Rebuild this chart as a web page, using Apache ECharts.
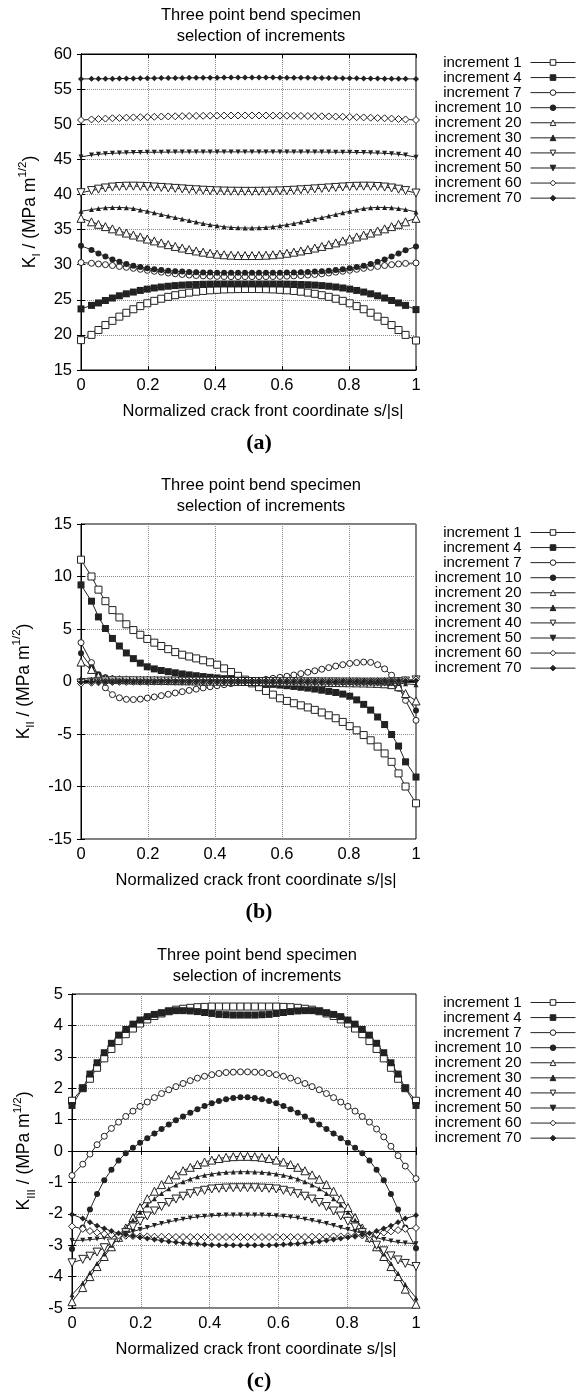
<!DOCTYPE html>
<html>
<head>
<meta charset="utf-8">
<title>Three point bend specimen</title>
<script src="https://cdn.jsdelivr.net/npm/echarts@6/dist/echarts.min.js"></script>
<style>
  html, body { margin: 0; padding: 0; background: #fff; }
  #chart { width: 576px; height: 1396px; }
</style>
</head>
<body>
<div id="chart"></div>
<script>
// normalized crack front coordinate s/|s| (same nodes in all three panels)
const S = [0, 0.0313, 0.0521, 0.0729, 0.0938, 0.1146, 0.1354, 0.1563, 0.1771, 0.1979, 0.2188, 0.2396,
  0.2604, 0.2813, 0.3021, 0.3229, 0.3438, 0.3646, 0.3854, 0.4063, 0.4271, 0.4479, 0.4688, 0.4896,
  0.5104, 0.5313, 0.5521, 0.5729, 0.5938, 0.6146, 0.6354, 0.6563, 0.6771, 0.6979, 0.7188, 0.7396,
  0.7604, 0.7813, 0.8021, 0.8229, 0.8438, 0.8646, 0.8854, 0.9063, 0.9271, 0.9479, 0.9688, 1];

const names = ['increment 1', 'increment 4', 'increment 7', 'increment 10', 'increment 20',
  'increment 30', 'increment 40', 'increment 50', 'increment 60', 'increment 70'];

// (a) K_I
const kI_1 = [19.25, 20.0, 20.7, 21.4, 22.0, 22.6, 23.15, 23.65, 24.1, 24.5, 24.85, 25.15, 25.42, 25.65, 25.85, 26.02, 26.15, 26.26, 26.35, 26.42, 26.47, 26.5, 26.52, 26.53,
  26.53, 26.52, 26.5, 26.47, 26.42, 26.35, 26.26, 26.15, 26.02, 25.85, 25.65, 25.42, 25.15, 24.85, 24.5, 24.1, 23.65, 23.15, 22.6, 22.0, 21.4, 20.7, 20.0, 19.2];
const kI_4 = [23.7, 24.2, 24.55, 24.9, 25.25, 25.57, 25.85, 26.1, 26.33, 26.52, 26.68, 26.82, 26.93, 27.02, 27.09, 27.14, 27.18, 27.21, 27.23, 27.24, 27.25, 27.25, 27.25, 27.25,
  27.25, 27.25, 27.25, 27.25, 27.24, 27.23, 27.21, 27.18, 27.14, 27.09, 27.02, 26.93, 26.82, 26.68, 26.52, 26.33, 26.1, 25.85, 25.57, 25.25, 24.9, 24.55, 24.2, 23.6];
const kI_7 = [30.3, 30.2, 30.1, 30.0, 29.88, 29.75, 29.62, 29.48, 29.34, 29.2, 29.06, 28.93, 28.81, 28.7, 28.6, 28.52, 28.45, 28.4, 28.36, 28.33, 28.31, 28.3, 28.3, 28.3,
  28.3, 28.3, 28.3, 28.31, 28.33, 28.36, 28.4, 28.45, 28.52, 28.6, 28.7, 28.81, 28.93, 29.06, 29.2, 29.34, 29.48, 29.62, 29.75, 29.88, 30.0, 30.1, 30.18, 30.25];
const kI_10 = [32.7, 32.1, 31.6, 31.15, 30.75, 30.4, 30.1, 29.85, 29.65, 29.48, 29.35, 29.24, 29.15, 29.08, 29.02, 28.97, 28.93, 28.9, 28.88, 28.86, 28.85, 28.84, 28.84, 28.84,
  28.84, 28.84, 28.84, 28.85, 28.86, 28.88, 28.9, 28.93, 28.97, 29.02, 29.08, 29.15, 29.24, 29.35, 29.48, 29.65, 29.85, 30.1, 30.4, 30.75, 31.15, 31.6, 32.05, 32.6];
const kI_20 = [36.6, 36.1, 35.75, 35.42, 35.1, 34.8, 34.5, 34.22, 33.95, 33.65, 33.38, 33.1, 32.85, 32.6, 32.37, 32.15, 31.95, 31.78, 31.63, 31.5, 31.41, 31.35, 31.31, 31.3,
  31.3, 31.31, 31.35, 31.41, 31.5, 31.63, 31.78, 31.95, 32.15, 32.37, 32.6, 32.85, 33.1, 33.38, 33.65, 33.95, 34.22, 34.5, 34.8, 35.1, 35.42, 35.75, 36.1, 36.6];
const kI_30 = [37.6, 37.85, 38.0, 38.1, 38.15, 38.15, 38.1, 38.0, 37.8, 37.6, 37.38, 37.15, 36.92, 36.7, 36.5, 36.28, 36.06, 35.86, 35.68, 35.53, 35.4, 35.31, 35.25, 35.22,
  35.22, 35.25, 35.31, 35.4, 35.53, 35.68, 35.86, 36.06, 36.28, 36.5, 36.7, 36.92, 37.15, 37.38, 37.6, 37.8, 38.0, 38.1, 38.15, 38.15, 38.1, 38.0, 37.85, 37.5];
const kI_40 = [40.25, 40.55, 40.75, 40.92, 41.05, 41.13, 41.17, 41.18, 41.16, 41.12, 41.06, 41.0, 40.93, 40.86, 40.79, 40.72, 40.66, 40.6, 40.55, 40.51, 40.48, 40.46, 40.45, 40.44,
  40.44, 40.45, 40.46, 40.48, 40.51, 40.55, 40.6, 40.66, 40.72, 40.79, 40.86, 40.93, 41.0, 41.06, 41.12, 41.16, 41.18, 41.17, 41.13, 41.05, 40.92, 40.75, 40.55, 40.2];
const kI_50 = [45.35, 45.6, 45.72, 45.8, 45.86, 45.9, 45.93, 45.96, 45.98, 46.0, 46.01, 46.02, 46.03, 46.04, 46.04, 46.05, 46.05, 46.05, 46.05, 46.06, 46.06, 46.06, 46.06, 46.06,
  46.06, 46.06, 46.06, 46.06, 46.06, 46.05, 46.05, 46.05, 46.05, 46.04, 46.04, 46.03, 46.02, 46.01, 46.0, 45.98, 45.96, 45.93, 45.9, 45.86, 45.8, 45.72, 45.6, 45.3];
const kI_60 = [50.6, 50.68, 50.74, 50.8, 50.85, 50.89, 50.93, 50.97, 51.0, 51.03, 51.06, 51.09, 51.11, 51.13, 51.15, 51.17, 51.19, 51.2, 51.21, 51.22, 51.23, 51.24, 51.24, 51.25,
  51.25, 51.24, 51.24, 51.23, 51.22, 51.21, 51.2, 51.19, 51.17, 51.15, 51.13, 51.11, 51.09, 51.06, 51.03, 51.0, 50.97, 50.93, 50.89, 50.85, 50.8, 50.74, 50.68, 50.6];
const kI_70 = [56.45, 56.46, 56.47, 56.48, 56.49, 56.5, 56.51, 56.52, 56.53, 56.55, 56.56, 56.57, 56.58, 56.59, 56.6, 56.61, 56.62, 56.62, 56.63, 56.63, 56.64, 56.64, 56.64, 56.64,
  56.64, 56.64, 56.64, 56.64, 56.63, 56.63, 56.62, 56.62, 56.61, 56.6, 56.59, 56.58, 56.57, 56.56, 56.55, 56.53, 56.52, 56.51, 56.5, 56.49, 56.48, 56.47, 56.46, 56.45];

// (b) K_II
const kII_1 = [11.6, 10.0, 8.75, 7.65, 6.8, 6.1, 5.45, 4.9, 4.45, 4.05, 3.7, 3.38, 3.08, 2.8, 2.55, 2.38, 2.2, 2.02, 1.83, 1.6, 1.25, 0.9, 0.54, 0.18,
  -0.18, -0.54, -0.9, -1.25, -1.6, -1.85, -2.07, -2.27, -2.47, -2.7, -2.95, -3.22, -3.5, -3.85, -4.25, -4.65, -5.1, -5.6, -6.2, -6.85, -7.65, -8.75, -10.0, -11.6];
const kII_4 = [9.2, 7.65, 6.15, 5.05, 4.1, 3.38, 2.72, 2.18, 1.75, 1.4, 1.2, 1.05, 0.94, 0.83, 0.72, 0.63, 0.55, 0.47, 0.4, 0.34, 0.27, 0.2, 0.12, 0.04,
  -0.04, -0.12, -0.2, -0.27, -0.34, -0.4, -0.47, -0.55, -0.63, -0.72, -0.83, -0.94, -1.05, -1.2, -1.4, -1.75, -2.18, -2.72, -3.38, -4.1, -5.05, -6.15, -7.65, -9.1];
const kII_7 = [3.7, 1.8, 0.55, -0.6, -1.25, -1.55, -1.7, -1.72, -1.68, -1.58, -1.47, -1.35, -1.22, -1.09, -0.97, -0.85, -0.73, -0.61, -0.5, -0.4, -0.3, -0.2, -0.12, -0.04,
  0.04, 0.12, 0.2, 0.3, 0.4, 0.5, 0.62, 0.75, 0.88, 1.02, 1.17, 1.32, 1.47, 1.6, 1.72, 1.8, 1.85, 1.82, 1.6, 1.2, 0.6, -0.5, -1.8, -3.7];
const kII_10 = [2.7, 1.35, 0.7, 0.4, 0.28, 0.22, 0.19, 0.17, 0.15, 0.14, 0.13, 0.12, 0.11, 0.1, 0.09, 0.08, 0.07, 0.06, 0.05, 0.04, 0.03, 0.02, 0.01, 0.0,
  0.0, -0.01, -0.02, -0.03, -0.04, -0.05, -0.06, -0.07, -0.08, -0.09, -0.1, -0.11, -0.12, -0.13, -0.14, -0.15, -0.17, -0.19, -0.22, -0.28, -0.4, -0.7, -1.35, -2.75];
const kII_20 = [1.85, 1.15, 0.5, 0.3, 0.22, 0.18, 0.16, 0.14, 0.13, 0.12, 0.11, 0.1, 0.09, 0.08, 0.07, 0.06, 0.05, 0.04, 0.04, 0.03, 0.02, 0.02, 0.01, 0.0,
  0.0, -0.01, -0.02, -0.02, -0.03, -0.04, -0.04, -0.05, -0.06, -0.07, -0.08, -0.09, -0.1, -0.11, -0.12, -0.13, -0.14, -0.16, -0.18, -0.22, -0.3, -0.5, -1.15, -1.85];
const kII_30 = [0.3, 0.22, 0.18, 0.16, 0.15, 0.14, 0.13, 0.12, 0.11, 0.1, 0.09, 0.08, 0.07, 0.07, 0.06, 0.05, 0.05, 0.04, 0.03, 0.03, 0.02, 0.02, 0.01, 0.0,
  0.0, -0.01, -0.02, -0.02, -0.03, -0.03, -0.04, -0.05, -0.05, -0.06, -0.07, -0.07, -0.08, -0.09, -0.1, -0.11, -0.12, -0.13, -0.14, -0.15, -0.16, -0.18, -0.22, -0.3];
const kII_40 = [-0.15, -0.05, 0.02, 0.05, 0.06, 0.06, 0.06, 0.06, 0.05, 0.05, 0.05, 0.04, 0.04, 0.04, 0.03, 0.03, 0.03, 0.02, 0.02, 0.02, 0.01, 0.01, 0.01, 0.0,
  0.0, -0.01, -0.01, -0.01, -0.02, -0.02, -0.02, -0.03, -0.03, -0.03, -0.04, -0.04, -0.04, -0.05, -0.05, -0.05, -0.06, -0.06, -0.06, -0.06, -0.05, -0.02, 0.05, 0.15];
const kII_50 = [0.1, 0.08, 0.06, 0.05, 0.04, 0.04, 0.03, 0.03, 0.03, 0.02, 0.02, 0.02, 0.02, 0.01, 0.01, 0.01, 0.01, 0.01, 0.01, 0.0, 0.0, 0.0, 0.0, 0.0,
  0.0, 0.0, 0.0, 0.0, 0.0, -0.01, -0.01, -0.01, -0.01, -0.01, -0.01, -0.02, -0.02, -0.02, -0.02, -0.03, -0.03, -0.03, -0.04, -0.04, -0.05, -0.06, -0.08, -0.1];
const kII_60 = [-0.2, -0.12, -0.08, -0.06, -0.05, -0.04, -0.04, -0.03, -0.03, -0.03, -0.02, -0.02, -0.02, -0.02, -0.01, -0.01, -0.01, -0.01, -0.01, 0.0, 0.0, 0.0, 0.0, 0.0,
  0.0, 0.0, 0.0, 0.0, 0.0, 0.01, 0.01, 0.01, 0.01, 0.01, 0.02, 0.02, 0.02, 0.02, 0.03, 0.03, 0.03, 0.04, 0.04, 0.05, 0.06, 0.08, 0.12, 0.2];
const kII_70 = [-0.1, -0.08, -0.06, -0.05, -0.04, -0.03, -0.03, -0.02, -0.02, -0.02, -0.02, -0.01, -0.01, -0.01, -0.01, -0.01, 0.0, 0.0, 0.0, 0.0, 0.0, 0.0, 0.0, 0.0,
  0.0, 0.0, 0.0, 0.0, 0.0, 0.0, 0.0, 0.0, 0.01, 0.01, 0.01, 0.01, 0.01, 0.02, 0.02, 0.02, 0.02, 0.03, 0.03, 0.04, 0.05, 0.06, 0.08, 0.1];

// (c) K_III
const kIII_1 = [1.6, 2.0, 2.3, 2.65, 2.95, 3.25, 3.5, 3.72, 3.9, 4.06, 4.19, 4.3, 4.38, 4.45, 4.5, 4.53, 4.56, 4.58, 4.59, 4.6, 4.6, 4.6, 4.6, 4.6,
  4.6, 4.6, 4.6, 4.6, 4.6, 4.59, 4.58, 4.56, 4.53, 4.5, 4.45, 4.38, 4.3, 4.19, 4.06, 3.9, 3.72, 3.5, 3.25, 2.95, 2.65, 2.3, 2.0, 1.6];
const kIII_4 = [1.45, 2.0, 2.45, 2.81, 3.13, 3.43, 3.69, 3.87, 4.04, 4.17, 4.28, 4.35, 4.4, 4.45, 4.47, 4.47, 4.46, 4.44, 4.41, 4.38, 4.35, 4.34, 4.33, 4.33,
  4.33, 4.33, 4.34, 4.35, 4.38, 4.41, 4.44, 4.46, 4.47, 4.47, 4.45, 4.4, 4.35, 4.28, 4.17, 4.04, 3.87, 3.69, 3.43, 3.13, 2.81, 2.45, 2.0, 1.45];
const kIII_7 = [-0.78, -0.42, -0.1, 0.2, 0.47, 0.72, 0.92, 1.1, 1.27, 1.42, 1.56, 1.7, 1.83, 1.95, 2.05, 2.15, 2.24, 2.32, 2.38, 2.43, 2.47, 2.5, 2.51, 2.52,
  2.52, 2.51, 2.5, 2.47, 2.43, 2.38, 2.32, 2.24, 2.15, 2.05, 1.95, 1.83, 1.7, 1.56, 1.42, 1.27, 1.1, 0.92, 0.7, 0.45, 0.15, -0.15, -0.48, -0.88];
const kIII_10 = [-3.12, -2.44, -1.86, -1.37, -0.93, -0.6, -0.3, -0.07, 0.1, 0.26, 0.41, 0.56, 0.7, 0.84, 0.98, 1.1, 1.22, 1.33, 1.43, 1.52, 1.59, 1.65, 1.69, 1.71,
  1.71, 1.69, 1.65, 1.59, 1.52, 1.43, 1.33, 1.22, 1.1, 0.98, 0.84, 0.7, 0.56, 0.41, 0.26, 0.1, -0.07, -0.3, -0.6, -0.93, -1.37, -1.86, -2.44, -3.1];
const kIII_20 = [-4.8, -4.35, -4.0, -3.68, -3.36, -3.05, -2.75, -2.45, -2.12, -1.8, -1.52, -1.28, -1.07, -0.9, -0.76, -0.63, -0.52, -0.43, -0.35, -0.29, -0.24, -0.2, -0.18, -0.17,
  -0.17, -0.18, -0.2, -0.24, -0.29, -0.35, -0.43, -0.52, -0.63, -0.76, -0.9, -1.07, -1.28, -1.52, -1.8, -2.12, -2.45, -2.75, -3.05, -3.36, -3.68, -4.0, -4.4, -4.88];
const kIII_30 = [-4.58, -4.2, -3.88, -3.58, -3.28, -3.0, -2.73, -2.47, -2.2, -1.95, -1.72, -1.52, -1.35, -1.2, -1.08, -0.98, -0.89, -0.82, -0.77, -0.73, -0.7, -0.68, -0.67, -0.66,
  -0.66, -0.67, -0.68, -0.7, -0.73, -0.77, -0.82, -0.89, -0.98, -1.08, -1.2, -1.35, -1.52, -1.72, -1.95, -2.2, -2.47, -2.73, -3.0, -3.28, -3.58, -3.9, -4.25, -4.68];
const kIII_40 = [-3.56, -3.45, -3.35, -3.22, -3.08, -2.93, -2.78, -2.6, -2.42, -2.24, -2.07, -1.91, -1.77, -1.64, -1.53, -1.44, -1.36, -1.3, -1.25, -1.21, -1.19, -1.18, -1.17, -1.17,
  -1.17, -1.17, -1.18, -1.19, -1.21, -1.25, -1.3, -1.36, -1.44, -1.53, -1.64, -1.77, -1.91, -2.07, -2.24, -2.42, -2.6, -2.8, -3.0, -3.18, -3.34, -3.47, -3.58, -3.68];
const kIII_50 = [-2.85, -2.84, -2.82, -2.8, -2.77, -2.73, -2.68, -2.62, -2.56, -2.5, -2.44, -2.37, -2.31, -2.26, -2.21, -2.17, -2.13, -2.1, -2.08, -2.06, -2.05, -2.04, -2.04, -2.04,
  -2.04, -2.04, -2.04, -2.05, -2.06, -2.08, -2.1, -2.13, -2.17, -2.21, -2.26, -2.31, -2.37, -2.44, -2.5, -2.56, -2.62, -2.69, -2.76, -2.82, -2.87, -2.91, -2.93, -2.95];
const kIII_60 = [-2.4, -2.48, -2.55, -2.6, -2.64, -2.67, -2.69, -2.7, -2.71, -2.72, -2.72, -2.73, -2.73, -2.73, -2.74, -2.74, -2.74, -2.74, -2.74, -2.74, -2.74, -2.74, -2.74, -2.74,
  -2.74, -2.74, -2.74, -2.74, -2.74, -2.74, -2.74, -2.74, -2.74, -2.73, -2.73, -2.73, -2.72, -2.72, -2.71, -2.7, -2.69, -2.67, -2.64, -2.6, -2.56, -2.52, -2.48, -2.45];
const kIII_70 = [-2.02, -2.15, -2.27, -2.38, -2.47, -2.55, -2.62, -2.67, -2.71, -2.75, -2.79, -2.82, -2.85, -2.88, -2.91, -2.93, -2.95, -2.96, -2.98, -2.99, -3.0, -3.0, -3.0, -3.0,
  -3.0, -3.0, -3.0, -3.0, -2.99, -2.98, -2.96, -2.95, -2.93, -2.91, -2.88, -2.85, -2.82, -2.79, -2.75, -2.71, -2.67, -2.62, -2.55, -2.47, -2.38, -2.27, -2.15, -2.05];

const FONT = '"Liberation Sans", Arial, Helvetica, sans-serif';
const INK = '#222';

// gnuplot point types, in the order of the increments
const marks = [
  { symbol: 'rect', size: 7, hollow: true },
  { symbol: 'rect', size: 7 },
  { symbol: 'circle', size: 6, hollow: true },
  { symbol: 'circle', size: 6 },
  { symbol: 'triangle', size: 8, hollow: true },
  { symbol: 'triangle', size: 5 },
  { symbol: 'triangle', size: 8, hollow: true, rotate: 180 },
  { symbol: 'triangle', size: 5, rotate: 180 },
  { symbol: 'diamond', size: 7, hollow: true },
  { symbol: 'diamond', size: 6 }
];

const panels = [
  { grid: { left: 81, top: 54, width: 335, height: 316 }, min: 15, max: 60, step: 5, sub: 'I',
    sets: [kI_1, kI_4, kI_7, kI_10, kI_20, kI_30, kI_40, kI_50, kI_60, kI_70], tag: '(a)', nameGap: 33, titleX: 261, xNameX: 263 },
  { grid: { left: 81, top: 524, width: 335, height: 315 }, min: -15, max: 15, step: 5, sub: 'II',
    sets: [kII_1, kII_4, kII_7, kII_10, kII_20, kII_30, kII_40, kII_50, kII_60, kII_70], tag: '(b)', nameGap: 33, titleX: 261, xNameX: 256 },
  { grid: { left: 72, top: 994, width: 344, height: 314 }, min: -5, max: 5, step: 1, sub: 'III',
    sets: [kIII_1, kIII_4, kIII_7, kIII_10, kIII_20, kIII_30, kIII_40, kIII_50, kIII_60, kIII_70], tag: '(c)', nameGap: 24, titleX: 257, xNameX: 256 }
];

const grid = [], xAxis = [], yAxis = [], series = [], legend = [], graphic = [];

const tickFmt = v => String(Math.round(v * 10) / 10);

panels.forEach((p, i) => {
  const g = p.grid;
  grid.push(Object.assign({ show: true, borderColor: '#000', borderWidth: 1, outerBoundsMode: 'none', containLabel: false }, g));
  const plotMid = g.left + g.width / 2;
  const bottom = g.top + g.height;

  xAxis.push({
    type: 'value', gridIndex: i, min: 0, max: 1, interval: 0.2,
    name: 'Normalized crack front coordinate s/|s|', nameLocation: 'middle', nameGap: 33,
    nameTextStyle: { fontFamily: FONT, fontSize: 16.5, color: '#000', padding: [0, 0, 0, 2 * (p.xNameX - plotMid)] },
    axisLine: { show: true, lineStyle: { color: '#000', width: 1 } },
    axisTick: { show: true, inside: true, length: 4, lineStyle: { color: '#000' } },
    axisLabel: { fontFamily: FONT, fontSize: 16.5, color: '#000', margin: 7, formatter: tickFmt },
    splitLine: { show: true, lineStyle: { color: '#888', type: 'dotted', width: 1 } }
  });
  xAxis.push({
    type: 'value', gridIndex: i, min: 0, max: 1, interval: 0.2, position: 'top',
    axisLine: { show: true, lineStyle: { color: '#000', width: 1 } },
    axisTick: { show: true, inside: true, length: 4, lineStyle: { color: '#000' } },
    axisLabel: { show: false }, splitLine: { show: false }
  });

  yAxis.push({
    type: 'value', gridIndex: i, min: p.min, max: p.max, interval: p.step,
    name: '{k|K}{s|' + p.sub + '}{k| / (MPa m}{p|1/2}{k|)}',
    nameLocation: 'middle', nameRotate: 90, nameGap: p.nameGap,
    nameTextStyle: {
      fontFamily: FONT, fontSize: 17.5, color: '#000',
      rich: {
        k: { fontFamily: FONT, fontSize: 17.5, lineHeight: 26, color: '#000' },
        s: { fontFamily: FONT, fontSize: 11.5, lineHeight: 12, verticalAlign: 'bottom', color: '#000' },
        p: { fontFamily: FONT, fontSize: 11.5, lineHeight: 12, verticalAlign: 'top', color: '#000' }
      }
    },
    axisLine: { show: true, lineStyle: { color: '#000', width: 1 } },
    axisTick: { show: true, inside: true, length: 4, lineStyle: { color: '#000' } },
    axisLabel: { fontFamily: FONT, fontSize: 16.5, color: '#000', margin: 9 },
    splitLine: { show: true, lineStyle: { color: '#888', type: 'dotted', width: 1 } }
  });
  yAxis.push({
    type: 'value', gridIndex: i, min: p.min, max: p.max, interval: p.step, position: 'right',
    axisLine: { show: true, lineStyle: { color: '#000', width: 1 } },
    axisTick: { show: true, inside: true, length: 4, lineStyle: { color: '#000' } },
    axisLabel: { show: false }, splitLine: { show: false }
  });

  p.sets.forEach((vals, k) => {
    const m = marks[k];
    series.push({
      type: 'line', name: names[k], xAxisIndex: 2 * i, yAxisIndex: 2 * i,
      data: S.map((s, j) => [s, vals[j]]),
      symbol: m.symbol, symbolSize: m.size, symbolRotate: m.rotate || 0,
      showSymbol: true, showAllSymbol: true, animation: false, silent: true,
      lineStyle: { color: INK, width: 1 },
      itemStyle: m.hollow ? { color: '#fff', borderColor: INK, borderWidth: 1 } : { color: INK, borderColor: INK, borderWidth: 0 },
      emphasis: { disabled: true }
    });
  });

  legend.push({
    data: names, orient: 'vertical', right: 0, top: g.top + 1, align: 'right', padding: 0,
    itemWidth: 45, itemHeight: 7, itemGap: 0.07, selectedMode: false,
    lineStyle: { width: 1 },
    itemStyle: { borderWidth: 1 },
    textStyle: { fontFamily: FONT, fontSize: 15, lineHeight: 15, color: '#000', padding: [0, 4, 0, 0] }
  });

  const txt = (x, y, text, font) => ({
    type: 'text', x: x, y: y, silent: true,
    style: { text: text, font: font, fill: '#000', align: 'center', verticalAlign: 'middle', textAlign: 'center', textVerticalAlign: 'middle' }
  });
  graphic.push(txt(p.titleX, g.top - 39, 'Three point bend specimen', '16.5px ' + FONT));
  graphic.push(txt(p.titleX, g.top - 18, 'selection of increments', '16.5px ' + FONT));
  graphic.push(txt(259, bottom + 73, p.tag, 'bold 22px "Liberation Serif", "Times New Roman", serif'));
});

const chart = echarts.init(document.getElementById('chart'), null, { renderer: 'canvas' });
chart.setOption({
  backgroundColor: '#fff',
  animation: false,
  grid: grid, xAxis: xAxis, yAxis: yAxis, legend: legend, series: series, graphic: graphic
});
</script>
</body>
</html>
